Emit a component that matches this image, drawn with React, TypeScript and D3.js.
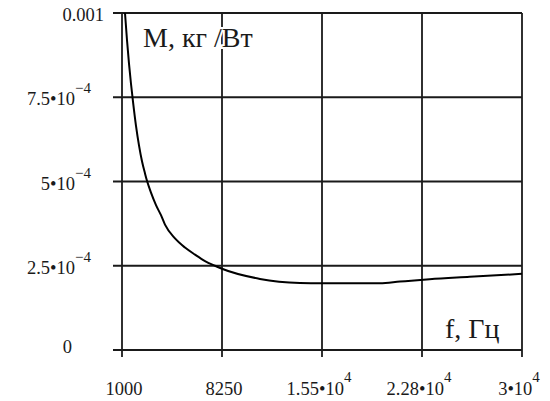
import React from "react";
import * as d3 from "d3";

const freq = [1000, 1217, 1362, 1507, 1652, 1797, 2015, 2232, 2450, 2667, 2812, 3102, 3465, 3827, 4117, 4842, 5567, 6292, 7017, 7742, 8250, 11000, 13900, 15500, 19700, 21150, 23300, 26200, 30000];
const mass = [0.00113, 0.001, 0.00092, 0.00085, 0.00079, 0.000737, 0.000665, 0.000607, 0.00056, 0.000524, 0.000502, 0.000467, 0.00043, 0.0004, 0.000372, 0.000331, 0.000304, 0.000283, 0.000264, 0.00025, 0.000241, 0.000211, 0.000199, 0.000198, 0.000198, 0.000203, 0.00021, 0.000217, 0.000226];

const xTicks = [1000, 8250, 15500, 22750, 30000];
const xTickLabels = ["1000", "8250", "1.55•10^4", "2.28•10^4", "3•10^4"];
const yTicks = [0, 0.00025, 0.0005, 0.00075, 0.001];
const yTickLabels = ["0", "2.5•10^-4", "5•10^-4", "7.5•10^-4", "0.001"];

const yTitle = "M, кг /Вт";
const xTitle = "f, Гц";

const L = 122, R = 522, T = 13, B = 350;
const font = "Liberation Serif, Times New Roman, DejaVu Serif, serif";
const ink = "#1a1a1a";

function Label({ text, x, y, anchor, size, expSize, expDy }: any) {
  const [base, exp] = text.split("^");
  return (
    <text x={x} y={y} textAnchor={anchor} fontFamily={font} fontSize={size} fill={ink}>
      <tspan>{base}</tspan>
      {exp !== undefined && (
        <tspan fontSize={expSize} dy={expDy}>{exp.replace("-", "−")}</tspan>
      )}
    </text>
  );
}

export default function App() {
  const x = d3.scaleLinear().domain([1000, 30000]).range([L, R]);
  const y = d3.scaleLinear().domain([0, 0.001]).range([B, T]);
  const pts = freq.map((f, i) => [f, mass[i]] as [number, number]);
  const line = d3.line<[number, number]>().x(d => x(d[0])).y(d => y(d[1])).curve(d3.curveMonotoneX);

  return (
    <svg width={550} height={401} style={{ position: "absolute", left: 0, top: 0, background: "#fff" }}>
      <defs>
        <clipPath id="plot">
          <rect x={L} y={T} width={R - L} height={B - T} />
        </clipPath>
      </defs>
      <rect x={0} y={0} width={550} height={401} fill="#fff" />
      {xTicks.map((t, i) => (
        <line key={"gx" + i} x1={x(t)} x2={x(t)} y1={T} y2={B + 7} stroke={ink} strokeWidth={1.8} />
      ))}
      {yTicks.map((t, i) => (
        <line key={"gy" + i} x1={L - 9} x2={R} y1={y(t)} y2={y(t)} stroke={ink} strokeWidth={1.8} />
      ))}
      <path d={line(pts) || ""} fill="none" stroke="#000" strokeWidth={2} clipPath="url(#plot)" />
      <text x={143} y={47} fontFamily={font} fontSize={28} fill={ink} stroke="#fff" strokeWidth={4} paintOrder="stroke">{yTitle}</text>
      <text x={445} y={338} fontFamily={font} fontSize={28} fill={ink} stroke="#fff" strokeWidth={4} paintOrder="stroke">{xTitle}</text>
      {xTickLabels.map((s, i) => (
        <Label key={"xl" + i} text={s} x={x(xTicks[i]) + (s.includes("^") ? -3 : 2)} y={395} anchor="middle" size={18.5} expSize={15} expDy={-13} />
      ))}
      {yTickLabels.map((s, i) => {
        const hasExp = s.includes("^");
        const ax = hasExp ? L - 31 : i === yTickLabels.length - 1 ? L - 18 : L - 50;
        const by = y(yTicks[i]) + (i === 0 ? 3 : 8);
        return <Label key={"yl" + i} text={s} x={ax} y={by} anchor="end" size={18.5} expSize={15} expDy={-12} />;
      })}
    </svg>
  );
}
